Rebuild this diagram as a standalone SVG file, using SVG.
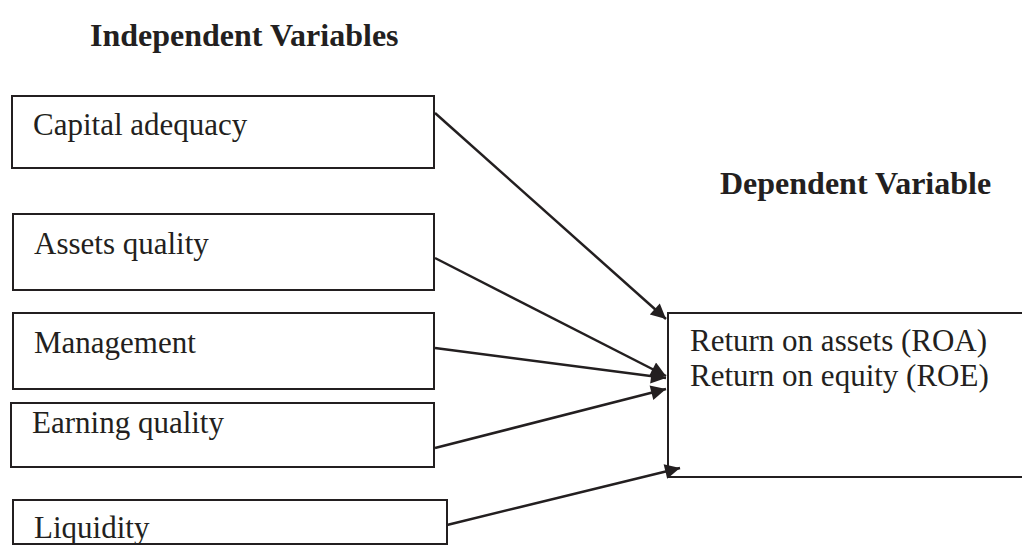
<svg xmlns="http://www.w3.org/2000/svg" width="1022" height="560" viewBox="0 0 1022 560">
<style>
.box{fill:#fff;stroke:#231f20;stroke-width:2}
.t{font-family:"Liberation Serif","Times New Roman",serif;font-size:31px;fill:#231f20}
.h{font-family:"Liberation Serif","Times New Roman",serif;font-size:32px;font-weight:bold;fill:#231f20}
.c{stroke:#231f20;stroke-width:2.5;fill:none;marker-end:url(#ah)}
</style>
<defs>
<marker id="ah" viewBox="0 0 10 10" refX="10" refY="5" markerWidth="8" markerHeight="6" orient="auto" markerUnits="strokeWidth">
<path d="M0,0 L10,5 L0,10 Z" fill="#231f20"/>
</marker>
</defs>
<rect width="1022" height="560" fill="#fff"/>
<text class="h" x="90" y="46">Independent Variables</text>
<text class="h" x="720" y="194">Dependent Variable</text>
<g id="n1"><rect class="box" x="12" y="96" width="422" height="72"/><text class="t" x="33" y="135">Capital adequacy</text></g>
<g id="n2"><rect class="box" x="13" y="214" width="421" height="76"/><text class="t" x="34" y="254">Assets quality</text></g>
<g id="n3"><rect class="box" x="13" y="313" width="421" height="76"/><text class="t" x="34" y="353">Management</text></g>
<g id="n4"><rect class="box" x="11" y="403" width="423" height="64"/><text class="t" x="32" y="433">Earning quality</text></g>
<g id="n5"><rect class="box" x="13" y="500" width="434" height="44"/><text class="t" x="34" y="538">Liquidity</text></g>
<g id="dep"><rect class="box" x="668" y="313" width="360" height="164"/><text class="t" x="690" y="351">Return on assets (ROA)</text><text class="t" x="690" y="386">Return on equity (ROE)</text></g>
<g id="connectors">
<line class="c" x1="435" y1="113" x2="666" y2="319"/>
<line class="c" x1="435" y1="258" x2="666" y2="376"/>
<line class="c" x1="435" y1="348" x2="666" y2="378"/>
<line class="c" x1="435" y1="448" x2="666" y2="389"/>
<line class="c" x1="447" y1="525" x2="680" y2="468"/>
</g>
</svg>
